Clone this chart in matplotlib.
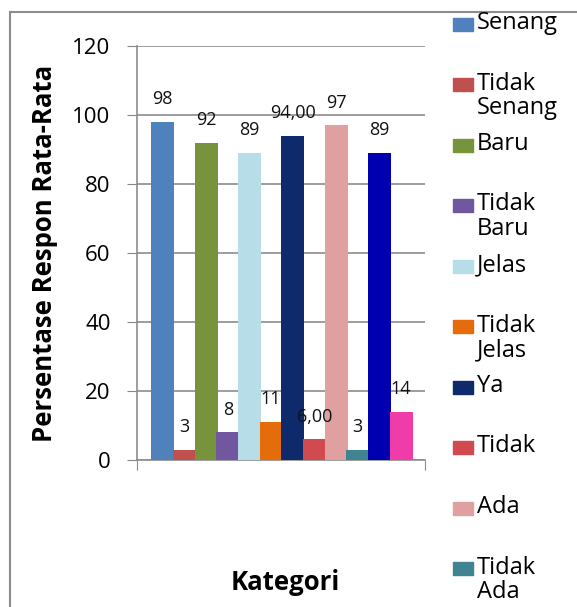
import matplotlib.pyplot as plt
from matplotlib.patches import Rectangle
from matplotlib.lines import Line2D

# Data
series = ["Senang", "Tidak Senang", "Baru", "Tidak Baru", "Jelas",
          "Tidak Jelas", "Ya", "Tidak", "Ada", "Tidak Ada", "", ""]
values = [98, 3, 92, 8, 89, 11, 94, 6, 97, 3, 89, 14]
labels = ["98", "3", "92", "8", "89", "11", "94,00", "6,00", "97", "3", "89", "14"]
colors = ["#4F81BD", "#C0504D", "#77933C", "#7057A0", "#B7DEE8", "#E46C0A",
          "#0F2A6A", "#D04A50", "#E0A0A0", "#3F8490", "#0000B0", "#F03CA8"]
legend_names = ["Senang", "Tidak\nSenang", "Baru", "Tidak\nBaru", "Jelas",
                "Tidak\nJelas", "Ya", "Tidak", "Ada", "Tidak\nAda"]

plt.rcParams["font.family"] = ["Open Sans", "DejaVu Sans"]

fig = plt.figure(figsize=(5.77, 6.07), dpi=100)
ax = fig.add_axes([137 / 577, 1 - 460 / 607, 288 / 577, 414 / 607])

x = list(range(len(values)))
ax.bar(x, values, width=1.05, color=colors, edgecolor="none", zorder=3)
for xi, v, lab in zip(x, values, labels):
    ax.text(xi, v + 4, lab, ha="center", va="bottom", fontsize=13, color="#111111", zorder=4)

ax.set_xlim(-1.19, 12.1)
ax.set_ylim(0, 120)
ax.set_yticks(range(0, 121, 20))
ax.set_xticks([-1.19, 12.1])
ax.set_xticklabels(["", ""])
ax.tick_params(axis="y", labelsize=16, length=7, color="#888888", pad=12)
ax.tick_params(axis="x", length=7, color="#888888")
ax.yaxis.grid(True, color="#8c8c8c", linewidth=1.2, zorder=0)
ax.set_axisbelow(True)
for s in ["top", "right"]:
    ax.spines[s].set_visible(False)
for s in ["left", "bottom"]:
    ax.spines[s].set_color("#8c8c8c")
    ax.spines[s].set_linewidth(1.2)

ax.set_ylabel("Persentase Respon Rata-Rata", fontsize=18.5, fontweight="bold", labelpad=10)
fig.text(285 / 577, 1 - 582 / 607, "Kategori", ha="center", va="center",
         fontsize=18.5, fontweight="bold")

# Legend drawn by hand so the marker sits beside the first line of text
for i, (name, col) in enumerate(zip(legend_names, colors)):
    yc = 1 - (24 + i * 60.5) / 607
    fig.add_artist(Rectangle((453 / 577, yc - 6.5 / 607), 20 / 577, 13 / 607,
                             transform=fig.transFigure, color=col))
    fig.text(477 / 577, yc + 13 / 607, name, ha="left", va="top", fontsize=17,
             linespacing=1.05)

# outer chart border (clipped at right and bottom)
fig.add_artist(Line2D([10 / 577, 1], [1 - 12 / 607, 1 - 12 / 607],
                      transform=fig.transFigure, color="#8c8c8c", linewidth=1.5))
fig.add_artist(Line2D([10 / 577, 10 / 577], [0, 1 - 12 / 607],
                      transform=fig.transFigure, color="#8c8c8c", linewidth=1.5))

fig.savefig("out.png", dpi=100)
